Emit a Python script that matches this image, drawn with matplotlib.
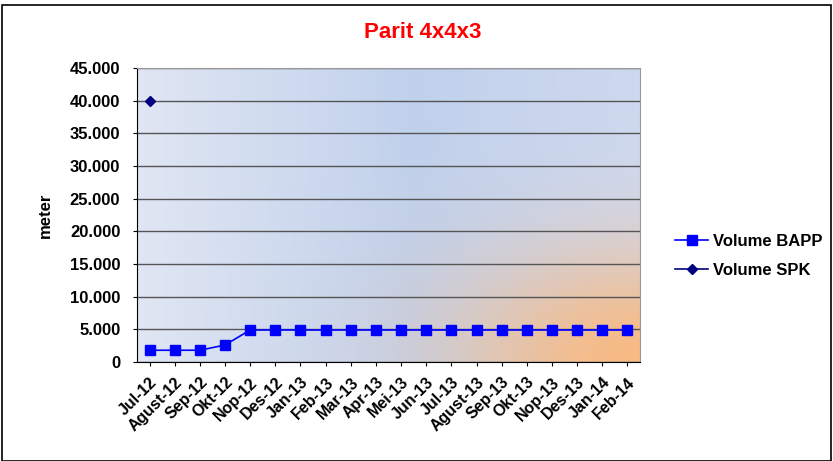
import matplotlib.pyplot as plt
import numpy as np
from matplotlib.ticker import FuncFormatter

months = ["Jul-12", "Agust-12", "Sep-12", "Okt-12", "Nop-12", "Des-12", "Jan-13",
          "Feb-13", "Mar-13", "Apr-13", "Mei-13", "Jun-13", "Jul-13", "Agust-13",
          "Sep-13", "Okt-13", "Nop-13", "Des-13", "Jan-14", "Feb-14"]
volume_bapp = [1800, 1800, 1800, 2600, 4900, 4900, 4900, 4900, 4900, 4900,
               4900, 4900, 4900, 4900, 4900, 4900, 4900, 4900, 4900, 4900]
volume_spk = [40000] + [np.nan] * 19

plt.rcParams['font.family'] = ['Liberation Sans', 'DejaVu Sans']

fig = plt.figure(figsize=(8.33, 4.61), dpi=100)
W, H = 833, 461
ax = fig.add_axes([137 / W, (H - 362) / H, (640 - 137) / W, (362 - 68) / H])

# background gradient (blue-gray, soft orange glow at bottom right)
ny, nx = 200, 300
xx, yy = np.meshgrid(np.linspace(0, 1, nx), np.linspace(0, 1, ny))
left = np.array([224, 230, 243]) / 255
mid = np.array([193, 209, 236]) / 255
right = np.array([206, 217, 239]) / 255
t1 = np.clip(xx / 0.55, 0, 1)[..., None]
t2 = np.clip((xx - 0.55) / 0.45, 0, 1)[..., None]
base = np.where(xx[..., None] < 0.55, left * (1 - t1) + mid * t1, mid * (1 - t2) + right * t2)
r2 = ((1 - xx) / 0.55) ** 2 + ((1 - yy) / 0.58) ** 2
w = np.exp(-2.3 * r2)[..., None]
orange = np.array([247, 186, 132]) / 255
img = base * (1 - w) + orange * w
ax.imshow(img, extent=[0, 1, 0, 1], transform=ax.transAxes, aspect='auto',
          zorder=0, origin='upper')

x = np.arange(len(months))
ax.plot(x, volume_bapp, color='#0000ff', marker='s', markersize=7, lw=1.2,
        label='Volume BAPP', zorder=3)
ax.plot(x, volume_spk, color='#000080', marker='D', markersize=5.5, lw=1.2,
        label='Volume SPK', zorder=3)

ax.set_xlim(-0.5, len(months) - 0.5)
ax.set_ylim(0, 45000)
ax.set_yticks(np.arange(0, 45001, 5000))
ax.yaxis.set_major_formatter(FuncFormatter(lambda v, p: f"{int(v):,}".replace(",", ".")))
ax.grid(axis='y', color='#555555', lw=1, zorder=1)
ax.set_xticks(x)
ax.set_xticklabels(months, rotation=45, ha='right', rotation_mode='anchor',
                   fontsize=11.5, fontweight='bold')
for lab in ax.get_yticklabels():
    lab.set_fontweight('bold')
    lab.set_fontsize(12)
ax.tick_params(axis='both', length=3, color='black')
ax.tick_params(axis='x', pad=6)
ax.tick_params(axis='y', pad=9)
for s in ['top', 'right']:
    ax.spines[s].set_color('#999999')
for s in ['left', 'bottom']:
    ax.spines[s].set_color('black')

ax.set_ylabel('meter', fontsize=12, fontweight='bold', labelpad=12)
fig.text(423 / W, 1 - 32 / H, 'Parit 4x4x3', color='red', fontsize=16,
         fontweight='bold', ha='center', va='center')

fig.legend(loc='center left', bbox_to_anchor=(660 / W, 1 - 256 / H), frameon=False,
           prop={'weight': 'bold', 'size': 12}, handlelength=2.0, labelspacing=0.8,
           handletextpad=0.3)

border = plt.Rectangle((0.003, 0.0), 0.994, 0.99, transform=fig.transFigure,
                       fill=False, edgecolor='black', lw=1.2)
fig.patches.append(border)

fig.savefig('out.png', dpi=100)
